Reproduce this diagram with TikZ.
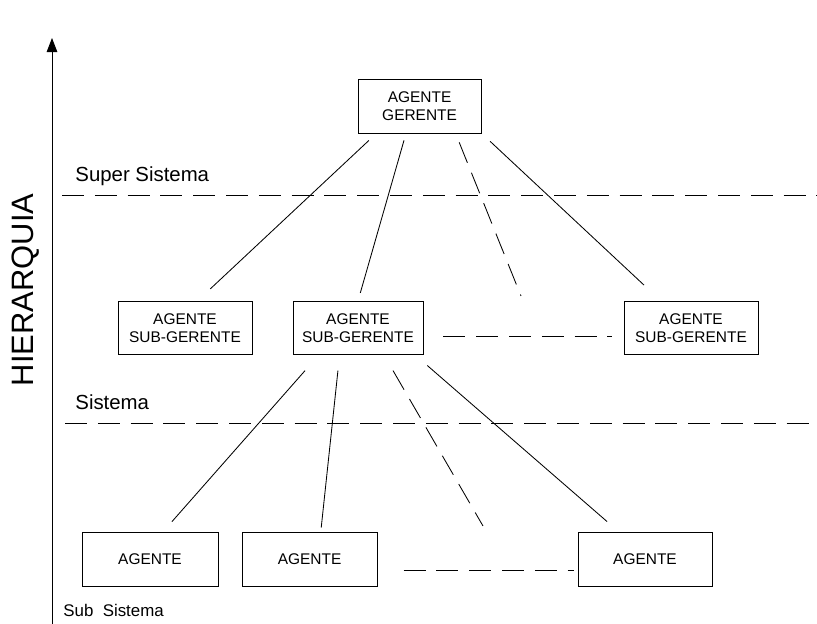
\documentclass[tikz,border=0pt]{standalone}
\usepackage{fontspec}
\setmainfont{Liberation Sans}
\usetikzlibrary{arrows.meta}

\begin{document}
\begin{tikzpicture}[line width=0.6pt,
    box/.style={draw,align=center,minimum width=3.35cm,minimum height=1.33cm,
      inner sep=0pt,font=\fontsize{11}{13}\selectfont},
    gapline/.style={dash pattern=on 0.55cm off 0.27cm},
    level/.style={font=\fontsize{14.5}{16}\selectfont,anchor=base west,inner sep=0pt}]
      \useasboundingbox (0,0) rectangle (20.425,15.6);
      % eje de la jerarquia
      \draw[-{Triangle[width=7.5pt,length=10pt]}] (1.3,0)--(1.3,14.65);
      \node[rotate=90,font=\fontsize{22}{24}\selectfont] (hier) at (0.63,8.35) {HIERARQUIA};
      % niveles
      \node[level] (super) at (1.875,11.05) {Super Sistema};
      \node[level] (sist) at (1.875,5.35) {Sistema};
      \node[level,font=\fontsize{12}{14}\selectfont] (sub) at (1.575,0.18) {Sub~~Sistema};
      \draw[gapline] (1.55,10.725)--(20.425,10.725);
      \draw[gapline] (1.625,5.025)--(20.425,5.025);
      % agentes
      \node[box,minimum width=3.08cm] (ger) at (10.49,12.94) {AGENTE\\GERENTE};
      \node[box] (sg1) at (4.625,7.4) {AGENTE\\SUB-GERENTE};
      \node[box,minimum width=3.25cm] (sg2) at (8.95,7.4) {AGENTE\\SUB-GERENTE};
      \node[box] (sg3) at (17.275,7.4) {AGENTE\\SUB-GERENTE};
      \node[box,minimum width=3.4cm,minimum height=1.35cm] (ag1) at (3.75,1.625) {AGENTE};
      \node[box,minimum width=3.38cm,minimum height=1.35cm] (ag2) at (7.74,1.625) {AGENTE};
      \node[box,minimum height=1.35cm] (ag3) at (16.125,1.625) {AGENTE};
      \coordinate (d1) at (13.025,8.2);
      \coordinate (d2) at (12.075,2.45);
      % gerente -> sub-gerentes
      \draw[shorten <=0.26cm,shorten >=0.44cm] ([xshift=-1.08cm]ger.south)--([xshift=0.31cm]sg1.north);
      \draw[shorten <=0.18cm,shorten >=0.21cm] ([xshift=-0.34cm]ger.south)--(sg2.north);
      \draw[gapline,shorten <=0.24cm] ([xshift=0.9cm]ger.south)--(d1);
      \draw[shorten <=0.29cm,shorten >=0.58cm] (ger.south east)--([xshift=-0.75cm]sg3.north);
      \draw[gapline,shorten <=0.5cm,shorten >=0.3cm] ([yshift=-0.2cm]sg2.east)--([yshift=-0.2cm]sg2.east -| sg3.west);
      % sub-gerente -> agentes
      \draw[shorten <=0.52cm,shorten >=0.33cm] ([xshift=-0.98cm]sg2.south)--([xshift=0.33cm]ag1.north);
      \draw[shorten <=0.39cm,shorten >=0.1cm] ([xshift=-0.46cm]sg2.south)--([xshift=0.28cm]ag2.north);
      \draw[gapline,shorten <=0.45cm] ([xshift=0.65cm]sg2.south)--(d2);
      \draw[shorten <=0.4cm,shorten >=0.38cm] ([xshift=1.43cm]sg2.south)--([xshift=-0.66cm]ag3.north);
      \draw[gapline,shorten <=0.65cm,shorten >=0.08cm] ([yshift=-0.28cm]ag2.east)--([yshift=-0.28cm]ag2.east -| ag3.west);
    \end{tikzpicture}
\end{document}
